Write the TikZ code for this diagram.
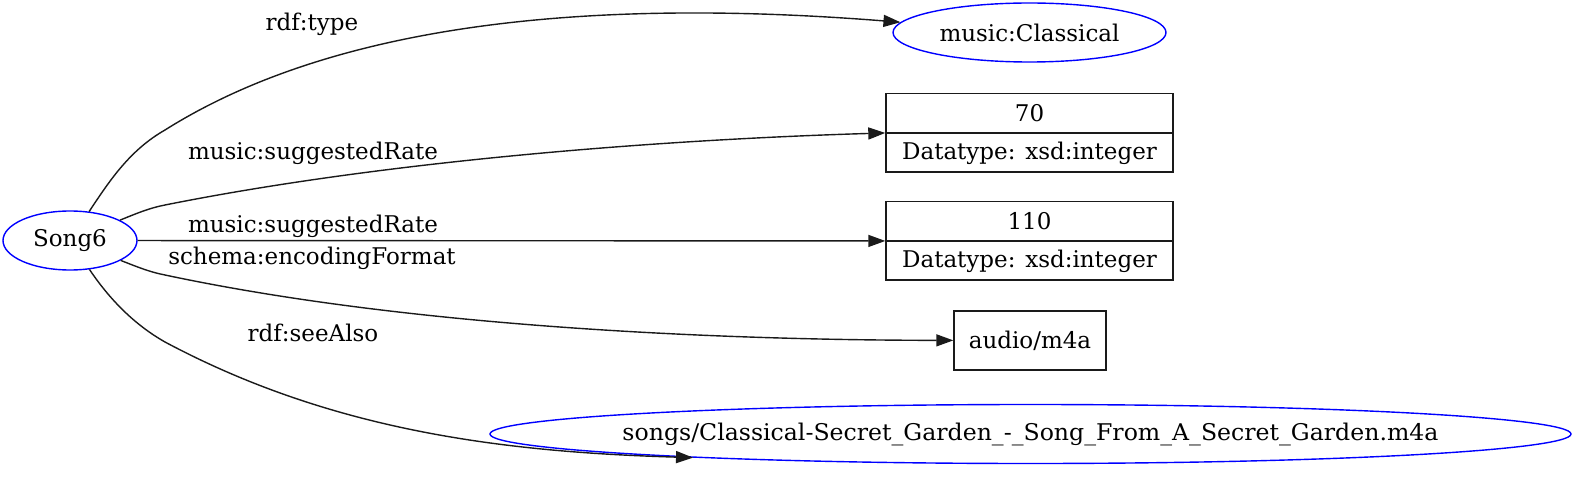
\documentclass[tikz,border=0pt]{standalone}
\usepackage{fontspec}
\setmainfont{DejaVu Serif}
\usepackage{xcolor}
\usepackage{tikz}
\usetikzlibrary{positioning, arrows.meta, calc, shapes.geometric}
\definecolor{rdfblue}{HTML}{0000FF}
\definecolor{edgegray}{HTML}{1A1A1A}

\tikzset{
  resource/.style={ellipse, draw=rdfblue, line width=1.4pt, inner sep=0pt},
  literal/.style={rectangle, draw=edgegray, line width=1.4pt, inner sep=0pt,
                  minimum width=287pt, minimum height=38.5pt},
  rel/.style={draw=edgegray, line width=1.4pt, -{Triangle[length=17pt,width=12pt]}},
  relname/.style={inner sep=0pt}
}

\begin{document}
\begin{tikzpicture}[x=1pt, y=-1pt, font=\fontsize{23}{28}\selectfont]
    \useasboundingbox (0,0) rectangle (1578,486);

    % subject
    \node[resource, minimum width=134pt, minimum height=59pt] (song) at (70,240.5) {Song6};

    % objects
    \node[resource, minimum width=273pt, minimum height=59pt] (cls) at (1029.5,32.5) {music:Classical};
    \node[literal] (v70) at (1029.5,113) {70};
    \node[literal, below=0pt of v70] (v70type) {Datatype: xsd:integer};
    \node[literal] (v110) at (1029.5,221) {110};
    \node[literal, below=0pt of v110] (v110type) {Datatype: xsd:integer};
    \node[literal, minimum width=152pt, minimum height=59pt] (audio) at (1030,340.5) {audio/m4a};
    \node[resource, minimum width=1081pt, minimum height=59pt,
          label={center:\resizebox{816pt}{\height}{songs/Classical-Secret\_Garden\_-\_Song\_From\_A\_Secret\_Garden.m4a}}]
          (file) at (1030.5,434) {};

    % properties
    \draw[rel] (song) .. controls (110,180) and (130,150) .. (165,130)
                      .. controls (300,45) and (520,-8) .. (cls);
    \draw[rel] (song) .. controls (140,212) and (150,208) .. (165,205)
                      .. controls (380,162) and (650,140) .. (v70.south west);
    \draw[rel] (song) -- (v110.south west);
    \draw[rel] (song) .. controls (140,268) and (150,272) .. (165,275)
                      .. controls (400,325) and (700,340) .. (audio);
    \draw[rel] (song) .. controls (110,300) and (135,325) .. (165,342)
                      .. controls (330,430) and (500,452) .. (file.184);

    \node[relname] (ltype) at (312,24) {rdf:type};
    \node[relname] (lrate1) at (313,153) {music:suggestedRate};
    \node[relname] (lrate2) at (313,226) {music:suggestedRate};
    \node[relname] (lformat) at (312,258) {schema:encodingFormat};
    \node[relname] (lsee) at (313,333) {rdf:seeAlso};
\end{tikzpicture}
\end{document}
